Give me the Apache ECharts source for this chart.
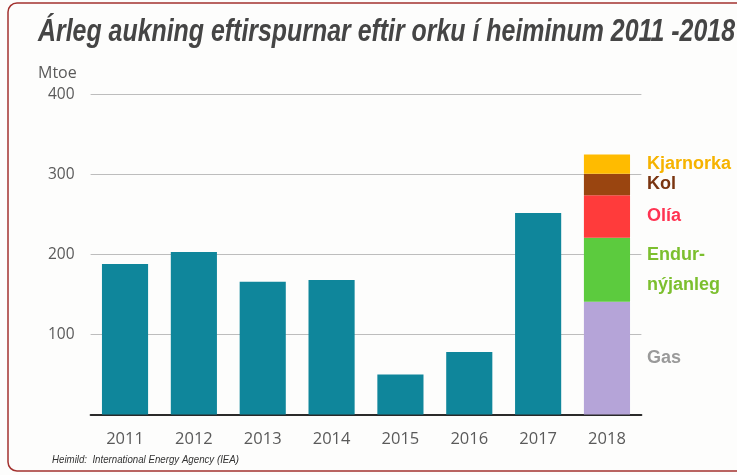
<!DOCTYPE html>
<html>
<head>
<meta charset="utf-8">
<script src="https://cdn.jsdelivr.net/npm/echarts@6/dist/echarts.min.js"></script>
<style>
  html, body { margin: 0; padding: 0; background: #fdfdfc; }
  #chart { width: 737px; height: 475px; }
</style>
</head>
<body>
<div id="chart"></div>
<script>
// ár
var years = ['2011', '2012', '2013', '2014', '2015', '2016', '2017', '2018'];
// árleg aukning, Mtoe (2018 skipt upp eftir orkugjöfum)
var growth = [188, 203, 166, 168, 50, 78, 252, '-'];
var mixNames = ['Gas', 'Endur-\nnýjanleg', 'Olía', 'Kol', 'Kjarnorka'];
var mixValues = [141, 80, 53, 27, 24];
var yTicks = [0, 100, 200, 300, 400];

var titleText = 'Árleg aukning eftirspurnar eftir orku í heiminum 2011 -2018';
var sourceText = 'Heimild:  International Energy Agency (IEA)';

var mixColors = ['#b5a4d8', '#5ccb3e', '#ff3b3b', '#9a4510', '#ffbb00'];
var mixTextColors = ['#9a9a9a', '#7cbf2e', '#ff3352', '#7a3510', '#f6b300'];

// squeeze a text to a given width (the original uses a condensed face)
var ctx = document.createElement('canvas').getContext('2d');
function squeeze(text, font, width) {
  ctx.font = font;
  return width / ctx.measureText(text).width;
}
var titleFont = 'italic bold 31px "Liberation Sans", sans-serif';
var sourceFont = 'italic 11px "Liberation Sans", sans-serif';

var series = [{
  name: 'Aukning',
  type: 'bar',
  stack: 'total',
  barCategoryGap: '33%',
  itemStyle: {color: '#0f869b'},
  data: growth
}];

mixNames.forEach(function (name, i) {
  var data = years.map(function (y, k) { return k === years.length - 1 ? mixValues[i] : '-'; });
  series.push({
    name: name,
    type: 'bar',
    stack: 'total',
    itemStyle: {color: mixColors[i]},
    label: {
      show: true,
      position: 'right',
      distance: 17,
      formatter: '{a}',
      color: mixTextColors[i],
      fontFamily: '"Liberation Sans", sans-serif',
      fontWeight: 'bold',
      fontSize: 18,
      lineHeight: 30
    },
    data: data
  });
});

var chart = echarts.init(document.getElementById('chart'));
chart.setOption({
  animation: false,
  backgroundColor: '#fdfdfc',
  grid: {left: 90.6, right: 95.6, top: 94.5, bottom: 60.5},
  xAxis: {
    type: 'category',
    data: years,
    axisLine: {lineStyle: {color: '#2a2a2a', width: 2}},
    axisTick: {show: false},
    axisLabel: {margin: 16, fontSize: 16.5, color: '#5a5a5a', fontFamily: '"Open Sans", sans-serif'}
  },
  yAxis: {
    type: 'value',
    min: yTicks[0],
    max: yTicks[yTicks.length - 1],
    interval: 100,
    axisLine: {show: false},
    axisTick: {show: false},
    axisLabel: {
      margin: 16,
      fontSize: 15.5,
      color: '#5a5a5a',
      fontFamily: '"Open Sans", sans-serif',
      formatter: function (v) { return v === 0 ? '' : v; }
    },
    splitLine: {lineStyle: {color: '#bdbdbd', width: 1}}
  },
  graphic: [
    {
      type: 'rect',
      shape: {x: 8, y: 3, width: 760, height: 468, r: 9},
      style: {fill: 'none', stroke: '#a3322f', lineWidth: 1.5}
    },
    {
      type: 'text',
      x: 38,
      y: 17,
      scaleX: squeeze(titleText, titleFont, 697),
      style: {text: titleText, font: titleFont, fill: '#454545'}
    },
    {
      type: 'text',
      x: 38,
      y: 65,
      style: {text: 'Mtoe', font: '16px "Open Sans", sans-serif', fill: '#5a5a5a'}
    },
    {
      type: 'text',
      x: 52,
      y: 454,
      scaleX: squeeze(sourceText, sourceFont, 187),
      style: {text: sourceText, font: sourceFont, fill: '#333'}
    }
  ],
  series: series
});
</script>
</body>
</html>
